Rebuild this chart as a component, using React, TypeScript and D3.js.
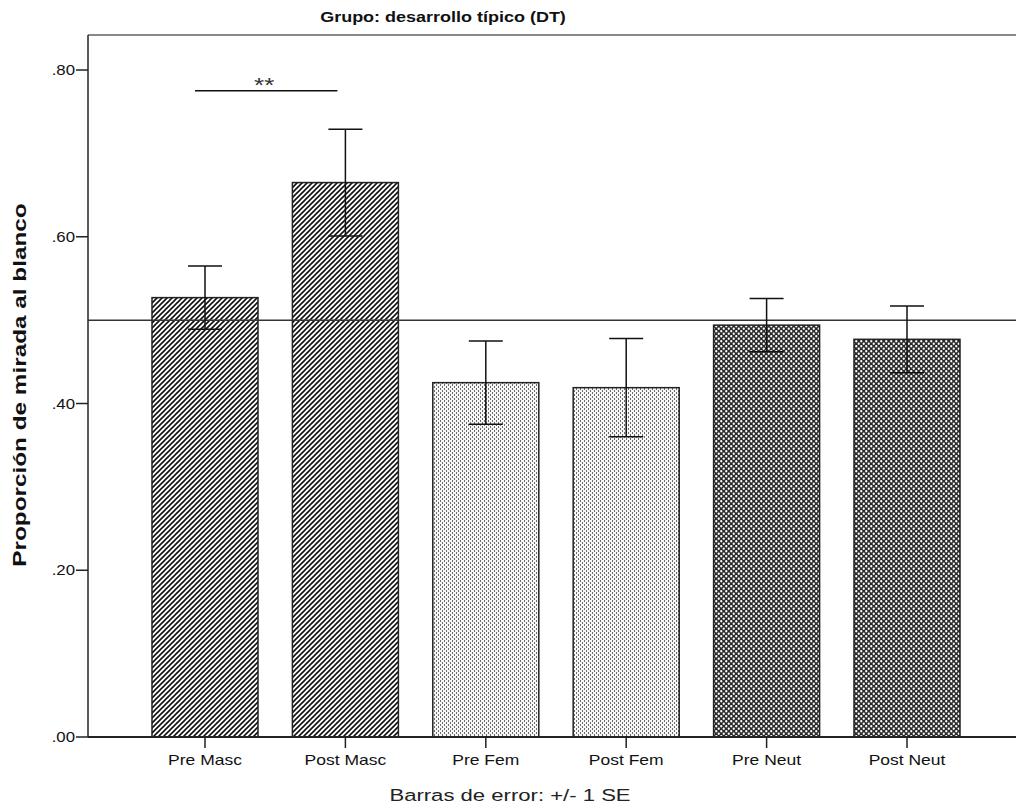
import React from "react";
import * as d3 from "d3";

const categories = ["Pre Masc", "Post Masc", "Pre Fem", "Post Fem", "Pre Neut", "Post Neut"];
const means = [0.527, 0.665, 0.425, 0.419, 0.494, 0.477];
const stdErrors = [0.038, 0.064, 0.05, 0.059, 0.032, 0.04];
const fillGroups = ["masc", "masc", "fem", "fem", "neut", "neut"];
const yTicks = [0, 0.2, 0.4, 0.6, 0.8];
const referenceValue = 0.5;
const significance = { from: "Pre Masc", to: "Post Masc", value: 0.775, label: "**" };
const titleText = "Grupo: desarrollo típico (DT)";
const yTitle = "Proporción de mirada al blanco";
const footText = "Barras de error: +/- 1 SE";

const W = 1016;
const H = 808;
const left = 88;
const top = 35;
const bottom = 737;

// horizontally stretched text (the reference image is widened)
function SText(props: any) {
  const { x, y, sx = 1.2, children, ...rest } = props;
  return (
    <text x={0} y={0} transform={`translate(${x},${y}) scale(${sx},1)`} {...rest}>
      {children}
    </text>
  );
}

export default function App() {
  const x = d3
    .scaleBand<string>()
    .domain(categories)
    .range([134.8, 977.2])
    .paddingInner(0.245)
    .paddingOuter(0.1225);
  const y = d3.scaleLinear().domain([0, 0.842]).range([bottom, top]);
  const fmt = (v: number) => d3.format(".2f")(v).replace(/^0/, "");
  const cx = (c: string) => (x(c) as number) + x.bandwidth() / 2;
  const font = "Arial, 'Liberation Sans', sans-serif";
  const capHalf = 17;

  return (
    <svg width={W} height={H} style={{ position: "absolute", left: 0, top: 0, background: "#fff" }}>
      <defs>
        <pattern id="masc" patternUnits="userSpaceOnUse" width={5} height={5}>
          <rect width={5} height={5} fill="#fff" />
          <path d="M-1,1 l2,-2 M0,5 l5,-5 M4,6 l2,-2" stroke="#111" strokeWidth={1.6} />
        </pattern>
        <pattern id="fem" patternUnits="userSpaceOnUse" width={4} height={4}>
          <rect width={4} height={4} fill="#f7f7f7" />
          <rect x={0} y={0} width={1} height={2} fill="#6a6a6a" />
          <rect x={2} y={2} width={1} height={2} fill="#6a6a6a" />
        </pattern>
        <pattern id="neut" patternUnits="userSpaceOnUse" width={5} height={5}>
          <rect width={5} height={5} fill="#2a2a2a" />
          <circle cx={1.25} cy={1.25} r={1.15} fill="#fff" />
          <circle cx={3.75} cy={3.75} r={1.15} fill="#fff" />
        </pattern>
      </defs>

      {/* frame */}
      <line x1={left} x2={W} y1={top} y2={top} stroke="#888" strokeWidth={2} />
      <line x1={left} x2={left} y1={top} y2={bottom} stroke="#222" strokeWidth={1.5} />

      {/* bars */}
      {categories.map((c, i) => (
        <rect
          key={c}
          x={x(c)}
          y={y(means[i])}
          width={x.bandwidth()}
          height={bottom - y(means[i])}
          fill={`url(#${fillGroups[i]})`}
          stroke="#222"
          strokeWidth={1.5}
        />
      ))}

      {/* reference line */}
      <line x1={left} x2={W} y1={y(referenceValue)} y2={y(referenceValue)} stroke="#333" strokeWidth={1.5} />

      {/* error bars */}
      {categories.map((c, i) => {
        const hi = y(means[i] + stdErrors[i]);
        const lo = y(means[i] - stdErrors[i]);
        const xc = cx(c);
        return (
          <g key={c} stroke="#111" strokeWidth={1.5}>
            <line x1={xc} x2={xc} y1={hi} y2={lo} />
            <line x1={xc - capHalf} x2={xc + capHalf} y1={hi} y2={hi} />
            <line x1={xc - capHalf} x2={xc + capHalf} y1={lo} y2={lo} />
          </g>
        );
      })}

      {/* x axis */}
      <line x1={left} x2={W} y1={bottom} y2={bottom} stroke="#222" strokeWidth={2} />
      {categories.map((c) => (
        <g key={c}>
          <line x1={cx(c)} x2={cx(c)} y1={bottom} y2={bottom + 11} stroke="#222" strokeWidth={1.5} />
          <SText x={cx(c)} y={bottom + 28} sx={1.25} textAnchor="middle" fontFamily={font} fontSize={14} fill="#111">
            {c}
          </SText>
        </g>
      ))}

      {/* y axis ticks */}
      {yTicks.map((t) => (
        <g key={t}>
          <line x1={left - 12} x2={left} y1={y(t)} y2={y(t)} stroke="#222" strokeWidth={1.5} />
          <SText x={left - 13} y={y(t) + 5} sx={1.2} textAnchor="end" fontFamily={font} fontSize={14} fill="#111">
            {fmt(t)}
          </SText>
        </g>
      ))}

      {/* significance */}
      <line
        x1={cx(significance.from) - 10}
        x2={cx(significance.to) - 8}
        y1={y(significance.value)}
        y2={y(significance.value)}
        stroke="#111"
        strokeWidth={1.5}
      />
      <SText
        x={(cx(significance.from) + cx(significance.to)) / 2 - 11}
        y={y(significance.value) + 1}
        sx={1.3}
        textAnchor="middle"
        fontFamily={font}
        fontSize={20}
        fill="#333"
      >
        {significance.label}
      </SText>

      {/* titles */}
      <SText x={443} y={22} sx={1.2} textAnchor="middle" fontFamily={font} fontSize={15} fontWeight="bold" fill="#111">
        {titleText}
      </SText>
      <text
        transform={`translate(26,385) rotate(-90) scale(1.28,1)`}
        textAnchor="middle"
        fontFamily={font}
        fontSize={19}
        fontWeight="bold"
        fill="#111"
      >
        {yTitle}
      </text>
      <SText x={510} y={801} sx={1.3} textAnchor="middle" fontFamily={font} fontSize={17} fill="#222">
        {footText}
      </SText>
    </svg>
  );
}
